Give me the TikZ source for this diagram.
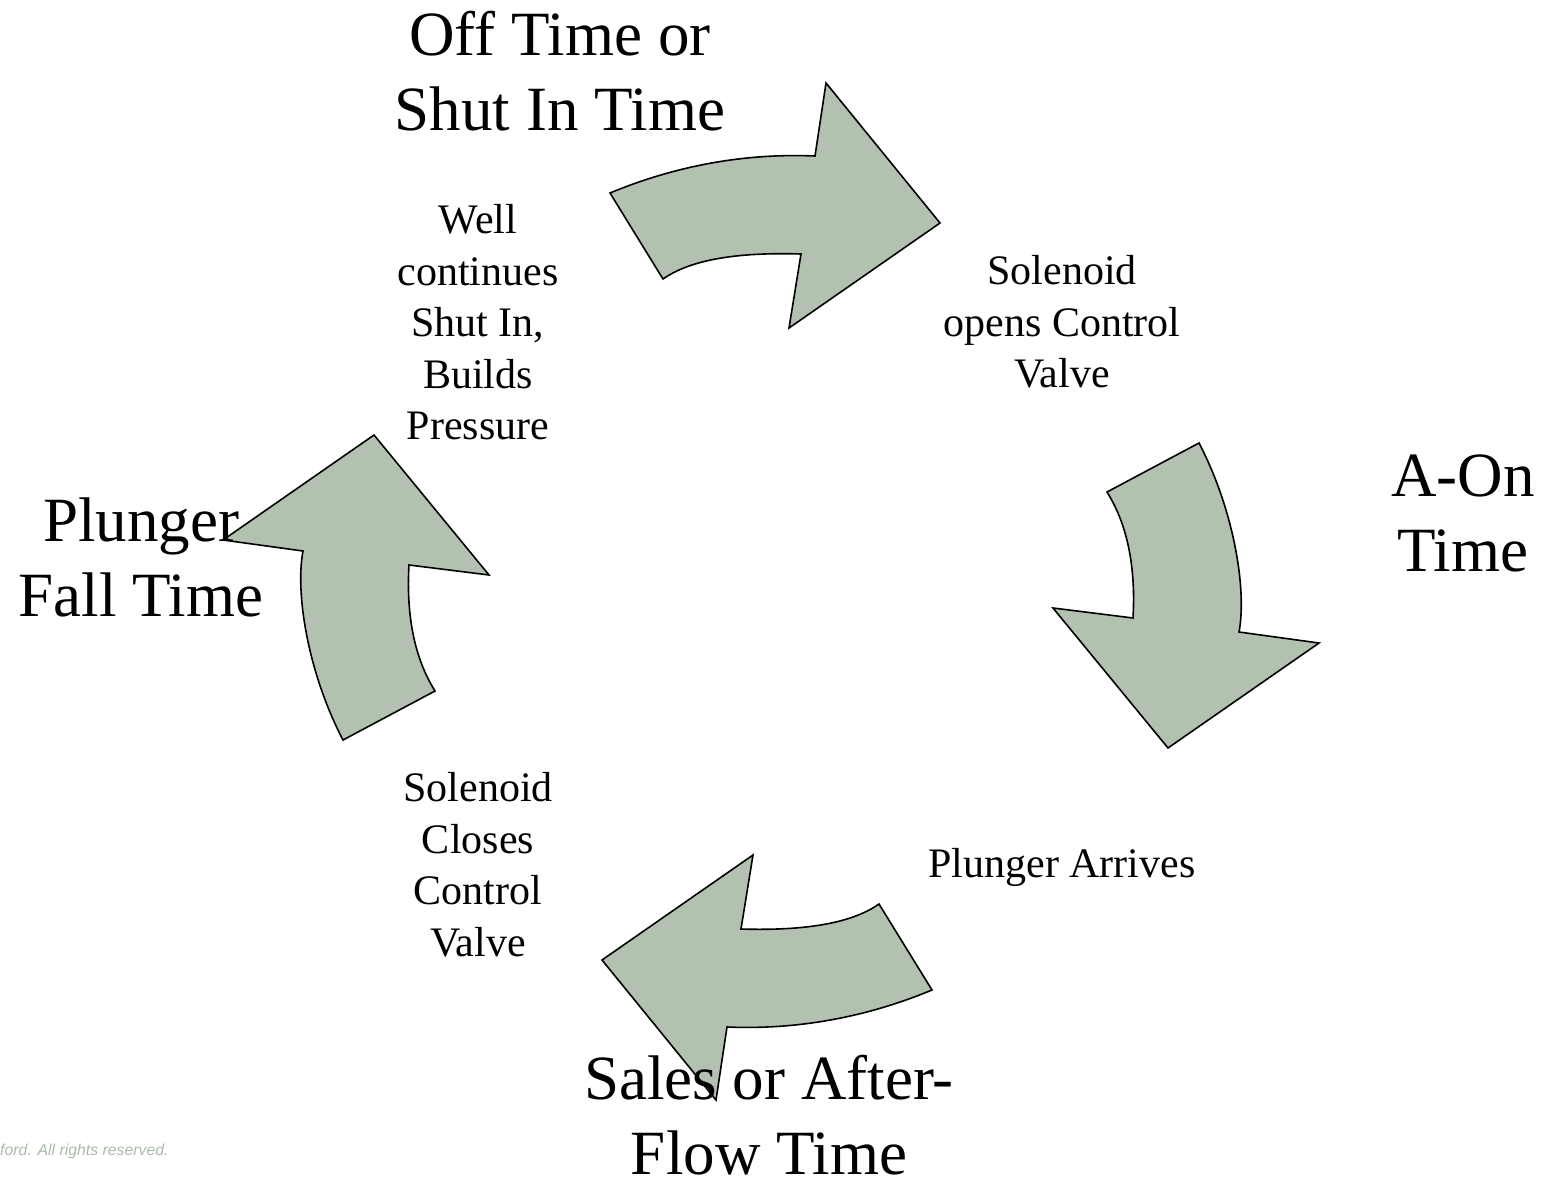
\documentclass[tikz,border=0pt]{standalone}
\usepackage{fontspec}
\setmainfont{Liberation Serif}
\newfontfamily\footfont{Liberation Sans}
\usepackage{xcolor}
\usepackage{tikz}
\definecolor{sage}{HTML}{B2C1B0}
\definecolor{footgray}{HTML}{A9BBA8}
\tikzset{
  bend arrow/.style={fill=sage,draw=black,line width=1.6pt},
  big label/.style={font=\fontsize{63}{75}\selectfont,align=center,inner sep=1pt},
  step label/.style={font=\fontsize{42}{51.5}\selectfont,align=center},
}
\newcommand{\arrowtop}{%
  \filldraw[bend arrow] (610,193) .. controls (675,166) and (744,153) .. (815,156) -- (826,83) -- (940,223)
    -- (789,328) -- (801,254) .. controls (736,252) and (690,260) .. (663,279) -- cycle;
}
\newcommand{\arrowside}{%
  \filldraw[bend arrow] (1199,443) -- (1107,492) .. controls (1127,524) and (1136,566) .. (1133,618)
    -- (1053,608) -- (1168,748) -- (1319,643) -- (1239,632) .. controls (1247,590) and (1234,510) .. (1199,443) -- cycle;
}

\begin{document}
\begin{tikzpicture}[x=1pt,y=-1pt]
\useasboundingbox (0,0) rectangle (1548,1183);
\arrowtop \arrowside
\begin{scope}[rotate around={180:(771,591.5)}]
\arrowtop \arrowside
\end{scope}
\node[big label] (offtime) at (560,71) {Off Time or\\Shut In Time};
\node[big label] (ontime) at (1463,513.5) {A-On\\Time};
\node[big label] (aftertime) at (769,1115) {Sales or After-\\Flow Time};
\node[big label] (falltime) at (141,557) {Plunger\\Fall Time};
\node[step label] (shutin) at (478,322.5) {Well\\continues\\Shut In,\\Builds\\Pressure};
\node[step label] (opens) at (1062,322) {Solenoid\\opens Control\\Valve};
\node[step label] (arrives) at (1062,867) {Plunger Arrives};
\node[step label] (closes) at (478,864.5) {Solenoid\\Closes\\Control\\Valve};
\node[font=\footfont\fontsize{15.8}{19}\selectfont\itshape,text=footgray,anchor=base west,inner sep=0pt] (rights) at (0,1155) {ford. All rights reserved.};
\end{tikzpicture}
\end{document}
